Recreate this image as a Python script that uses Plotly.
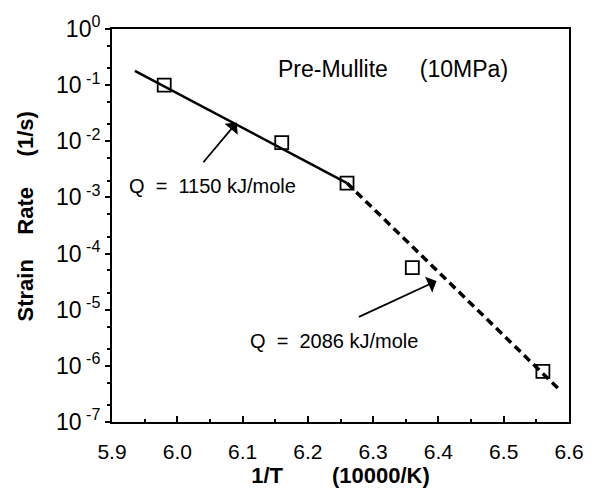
import plotly.graph_objects as go

inv_T = [5.98, 6.16, 6.26, 6.36, 6.56]
strain_rate = [1.0e-1, 9.5e-3, 1.8e-3, 5.6e-5, 8.0e-7]

fit1_x = [5.935, 6.26]
fit1_y = [1.8e-1, 1.8e-3]
fit2_x = [6.26, 6.585]
fit2_y = [1.8e-3, 3.8e-7]

y_tickvals = [1e0, 1e-1, 1e-2, 1e-3, 1e-4, 1e-5, 1e-6, 1e-7]
y_ticktext = ["10<sup>0</sup>", "10<sup> -1</sup>", "10<sup> -2</sup>", "10<sup> -3</sup>",
              "10<sup> -4</sup>", "10<sup> -5</sup>", "10<sup> -6</sup>", "10<sup> -7</sup>"]
x_tickvals = [5.9, 6.0, 6.1, 6.2, 6.3, 6.4, 6.5, 6.6]
x_ticktext = ["5.9", "6.0", "6.1", "6.2", "6.3", "6.4", "6.5", "6.6"]

FONT = "Liberation Sans, Arial, sans-serif"
NB = "\u00a0"

fig = go.Figure()
fig.add_trace(go.Scatter(x=fit1_x, y=fit1_y, mode="lines",
                         line=dict(color="black", width=2.5), showlegend=False))
fig.add_trace(go.Scatter(x=fit2_x, y=fit2_y, mode="lines",
                         line=dict(color="black", width=3.5, dash="8px,5px"), showlegend=False))
fig.add_trace(go.Scatter(x=inv_T, y=strain_rate, mode="markers",
                         marker=dict(symbol="square-open", size=13, color="black",
                                     line=dict(width=1.8, color="black")),
                         showlegend=False))

fig.update_layout(
    width=596, height=493,
    margin=dict(l=112, r=26, t=23, b=71),
    paper_bgcolor="white", plot_bgcolor="white",
    font=dict(family=FONT, size=20, color="black"),
    xaxis=dict(range=[5.9, 6.6], tickvals=x_tickvals, ticktext=x_ticktext,
               ticks="inside", ticklen=6, tickwidth=1.5, tickcolor="black",
               showline=True, linecolor="black", linewidth=2, mirror=True,
               showgrid=False, zeroline=False,
               tickfont=dict(size=21), ticklabelstandoff=10,
               minor=dict(ticks="inside", ticklen=3, tickcolor="black", dtick=0.05, showgrid=False),
               title=dict(text="<b>1/T" + NB * 8 + "(10000/K)</b>", font=dict(size=22), standoff=2)),
    yaxis=dict(type="log", range=[-7, 0], tickvals=y_tickvals, ticktext=y_ticktext,
               ticks="outside", ticklen=5, tickwidth=1.5, tickcolor="black",
               showline=True, linecolor="black", linewidth=2, mirror=True,
               showgrid=False, zeroline=False,
               tickfont=dict(size=23),
               minor=dict(ticks="outside", ticklen=3, tickcolor="black", showgrid=False),
               title=dict(text="<b>" + NB * 3 + "Strain" + NB * 4 + "Rate" + NB * 5 + "(1/s)</b>",
                          font=dict(size=22), standoff=16)),
)

fig.add_annotation(x=5.923, y=-2.79, xref="x", yref="y",
                   text="Q" + NB * 2 + "=" + NB * 2 + "1150" + NB + "kJ/mole",
                   showarrow=False, xanchor="left", yanchor="middle", font=dict(size=20))
fig.add_annotation(x=6.108, y=-5.56, xref="x", yref="y",
                   text="Q" + NB * 2 + "=" + NB * 2 + "2086" + NB + "kJ/mole",
                   showarrow=False, xanchor="left", yanchor="middle", font=dict(size=20))
fig.add_annotation(x=6.151, y=-0.72, xref="x", yref="y", text="Pre-Mullite" + NB * 5 + "(10MPa)",
                   showarrow=False, xanchor="left", yanchor="middle", font=dict(size=23))

fig.add_annotation(x=6.091, y=-1.667, ax=6.038, ay=-2.40, xref="x", yref="y", axref="x", ayref="y",
                   text="", showarrow=True, arrowhead=1, arrowsize=1.6, arrowwidth=1.8, arrowcolor="black")
fig.add_annotation(x=6.397, y=-4.49, ax=6.276, ay=-5.14, xref="x", yref="y", axref="x", ayref="y",
                   text="", showarrow=True, arrowhead=1, arrowsize=1.6, arrowwidth=1.8, arrowcolor="black")

fig.write_html("out.html")
